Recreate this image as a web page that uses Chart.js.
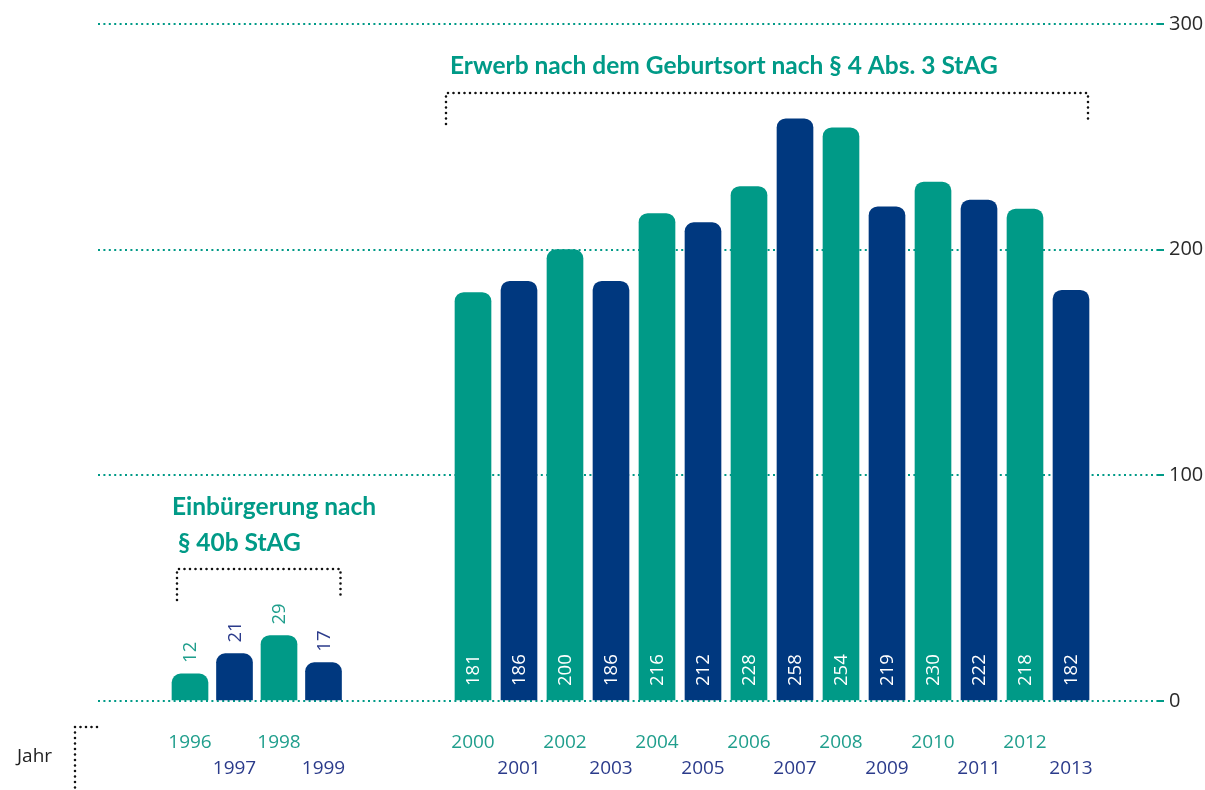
<!DOCTYPE html>
<html lang="de">
<head>
<meta charset="utf-8">
<title>Erwerb nach Geburtsort und Einbürgerung nach § 40b StAG</title>
<script src="https://cdn.jsdelivr.net/npm/chart.js@4.4.1/dist/chart.umd.min.js"></script>
<style>
  html, body { margin: 0; padding: 0; background: #fff; }
  #wrap { width: 1205px; height: 790px; }
</style>
</head>
<body>
<div id="wrap"><canvas id="chart" width="1205" height="790"></canvas></div>
<script>
// Einbürgerung nach § 40b StAG
var yearsEarly = [1996, 1997, 1998, 1999];
var valuesEarly = [12, 21, 29, 17];
// Erwerb nach dem Geburtsort nach § 4 Abs. 3 StAG
var yearsLate = [2000, 2001, 2002, 2003, 2004, 2005, 2006, 2007, 2008, 2009, 2010, 2011, 2012, 2013];
var valuesLate = [181, 186, 200, 186, 216, 212, 228, 258, 254, 219, 230, 222, 218, 182];
var yTicks = [0, 100, 200, 300];

var titleEarly = ['Einbürgerung nach', ' § 40b StAG'];
var titleLate = 'Erwerb nach dem Geburtsort nach § 4 Abs. 3 StAG';
var axisName = 'Jahr';

var teal = '#009a87';
var navy = '#00387f';
var tealText = '#1f9e8c';
var navyText = '#2b3b8b';
var numFont = '"Open Sans", "Noto Sans", sans-serif';
var headFont = 'Lato, "Open Sans", sans-serif';

// plot area edges; the two groups sit on two year axes placed side by side
// (split at plotSplit), the later group has slightly wider slots
var plotLeft = 98, plotSplit = 400, plotRight = 1157, plotTop = 24, plotBottom = 701;
function yearRange(firstYear, firstCenter, slot, left, right) {
    var min = firstYear - (firstCenter - left) / slot;
    return { min: min, max: min + (right - left) / slot, weight: right - left };
}
var rangeEarly = yearRange(1996, 190, 44.5, plotLeft, plotSplit);
var rangeLate = yearRange(2000, 473, 46, plotSplit, plotRight);

function barColor(year) { return year % 2 === 0 ? teal : navy; }
function yearLabel(v) { return v % 2 === 0 ? [String(v)] : ['', String(v)]; }

function yearAxis(range, years) {
    return {
        type: 'linear',
        position: 'bottom',
        bounds: 'data',
        offset: false,
        min: range.min,
        max: range.max,
        stack: 'years',
        stackWeight: range.weight,
        grid: { display: false, drawTicks: false, offset: false },
        border: { display: false },
        afterBuildTicks: function (s) { s.ticks = years.map(function (v) { return { value: v }; }); },
        afterFit: function (s) { s.height = 790 - plotBottom; },
        ticks: {
            autoSkip: false, maxRotation: 0, minRotation: 0, padding: 28,
            font: { family: numFont, size: 19, lineHeight: 1.4 },
            color: function (c) { return c.tick.value % 2 === 0 ? tealText : navyText; },
            callback: yearLabel
        }
    };
}

// rotated value labels: above the small bars, inside the tall ones
var barValues = {
    id: 'barValues',
    afterDatasetsDraw: function (chart) {
        var ctx = chart.ctx;
        chart.data.datasets.forEach(function (ds, di) {
            chart.getDatasetMeta(di).data.forEach(function (bar, i) {
                var p = ds.data[i];
                ctx.save();
                ctx.font = '18.5px ' + numFont;
                ctx.textBaseline = 'middle';
                ctx.textAlign = 'left';
                if (ds.inside) {
                    ctx.translate(bar.x, bar.base - 14);
                    ctx.fillStyle = '#ffffff';
                } else {
                    ctx.translate(bar.x, bar.y - 11);
                    ctx.fillStyle = p.x % 2 === 0 ? tealText : navyText;
                }
                ctx.rotate(-Math.PI / 2);
                ctx.fillText(String(p.y), 0, 1);
                ctx.restore();
            });
        });
    }
};

function dotted(ctx, pts) {
    ctx.save();
    ctx.strokeStyle = '#111';
    ctx.lineWidth = 2.6;
    ctx.lineCap = 'round';
    ctx.setLineDash([0, 5.5]);
    ctx.beginPath();
    ctx.moveTo(pts[0][0], pts[0][1]);
    for (var i = 1; i < pts.length; i++) ctx.lineTo(pts[i][0], pts[i][1]);
    ctx.stroke();
    ctx.restore();
}

// group headings, dotted brackets and the "Jahr" marker
var annotations = {
    id: 'annotations',
    afterDraw: function (chart) {
        var ctx = chart.ctx;
        var xa = chart.scales.xa, xb = chart.scales.xb;
        var a0 = xa.getPixelForValue(yearsEarly[0]), a1 = xa.getPixelForValue(yearsEarly[yearsEarly.length - 1]);
        var b0 = xb.getPixelForValue(yearsLate[0]), b1 = xb.getPixelForValue(yearsLate[yearsLate.length - 1]);

        ctx.save();
        ctx.fillStyle = teal;
        ctx.font = 'bold 24.5px ' + headFont;
        ctx.textBaseline = 'alphabetic';
        ctx.textAlign = 'left';
        ctx.fillText(titleLate, b0 - 23, 74);
        ctx.fillText(titleEarly[0], a0 - 18, 515);
        ctx.fillText(titleEarly[1], a0 - 18, 551);

        ctx.fillStyle = '#222';
        ctx.font = '19px ' + numFont;
        ctx.fillText(axisName, 17, 762);
        ctx.restore();

        dotted(ctx, [[b0 - 27, 124], [b0 - 27, 93], [b1 + 17, 93], [b1 + 17, 122]]);
        dotted(ctx, [[a0 - 13, 600], [a0 - 13, 569], [a1 + 17, 569], [a1 + 17, 598]]);
        dotted(ctx, [[97, 727], [75, 727], [75, 792]]);
    }
};

new Chart(document.getElementById('chart'), {
    type: 'bar',
    data: {
        datasets: [
            {
                xAxisID: 'xa',
                data: yearsEarly.map(function (y, i) { return { x: y, y: valuesEarly[i] }; }),
                backgroundColor: yearsEarly.map(barColor),
                inside: false
            },
            {
                xAxisID: 'xb',
                data: yearsLate.map(function (y, i) { return { x: y, y: valuesLate[i] }; }),
                backgroundColor: yearsLate.map(barColor),
                inside: true
            }
        ]
    },
    options: {
        responsive: false,
        animation: false,
        devicePixelRatio: 1,
        layout: { padding: { left: plotLeft, top: plotTop, right: 0, bottom: 0 } },
        datasets: {
            bar: {
                barThickness: 36,
                grouped: false,
                borderSkipped: 'start',
                borderRadius: { topLeft: 9, topRight: 9, bottomLeft: 0, bottomRight: 0 }
            }
        },
        plugins: { legend: { display: false }, tooltip: { enabled: false } },
        scales: {
            xa: yearAxis(rangeEarly, yearsEarly),
            xb: yearAxis(rangeLate, yearsLate),
            y: {
                position: 'right',
                min: 0,
                max: 300,
                afterBuildTicks: function (s) { s.ticks = yTicks.map(function (v) { return { value: v }; }); },
                afterFit: function (s) { s.width = 1205 - plotRight; },
                grid: { color: teal, lineWidth: 2, tickLength: 7, tickColor: teal, tickWidth: 2, tickBorderDash: [] },
                border: { display: false, dash: [2, 3.4] },
                ticks: { padding: 5, color: '#2a2a2a', font: { family: numFont, size: 20 } }
            }
        }
    },
    plugins: [barValues, annotations]
});
</script>
</body>
</html>
